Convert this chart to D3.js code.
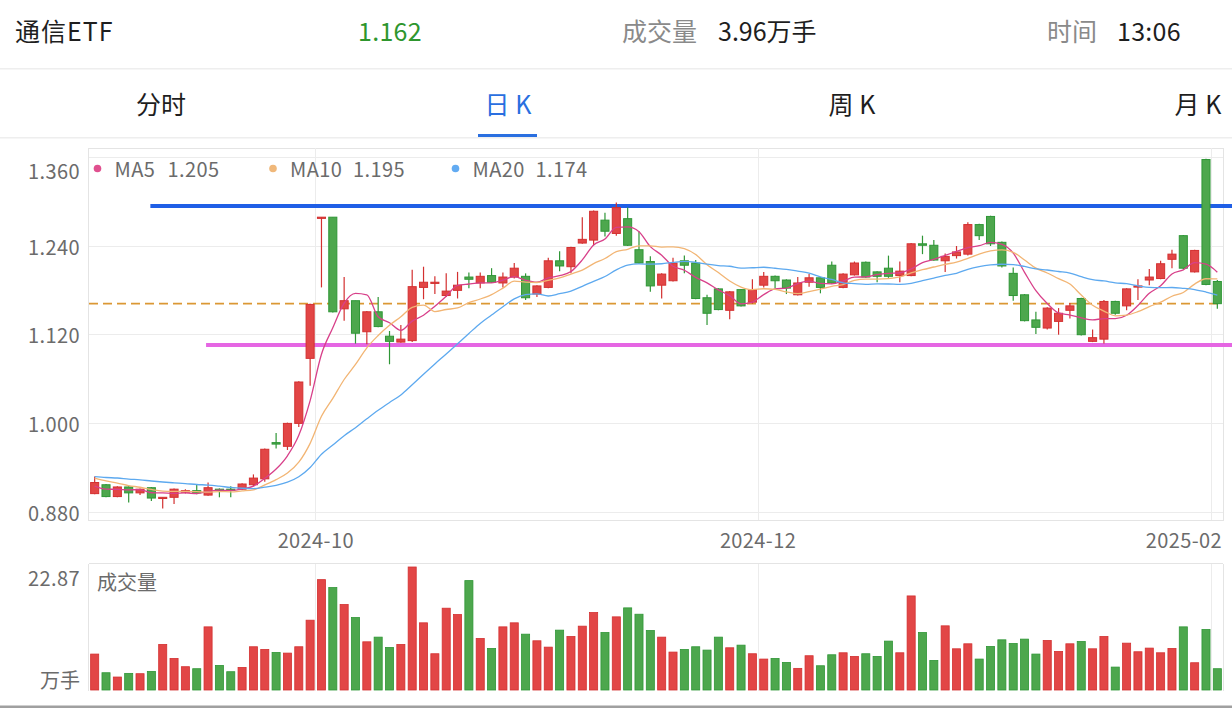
<!DOCTYPE html>
<html><head><meta charset="utf-8">
<script src="https://cdn.jsdelivr.net/npm/d3@7"></script>
<style>
html,body{margin:0;padding:0;background:#fff;}
svg{display:block;font-family:"Noto Sans CJK SC","Noto Sans",sans-serif;}
</style></head><body>
<svg id="c" width="1232" height="708"></svg>
<script>
// ---------------- data ----------------
const dates = [
"2024-08-30","2024-09-02","2024-09-03","2024-09-04","2024-09-05","2024-09-06","2024-09-09","2024-09-10","2024-09-11","2024-09-12",
"2024-09-13","2024-09-18","2024-09-19","2024-09-20","2024-09-23","2024-09-24","2024-09-25","2024-09-26","2024-09-27","2024-09-30",
"2024-10-08","2024-10-09","2024-10-10","2024-10-11","2024-10-14","2024-10-15","2024-10-16","2024-10-17","2024-10-18","2024-10-21",
"2024-10-22","2024-10-23","2024-10-24","2024-10-25","2024-10-28","2024-10-29","2024-10-30","2024-10-31","2024-11-01","2024-11-04",
"2024-11-05","2024-11-06","2024-11-07","2024-11-08","2024-11-11","2024-11-12","2024-11-13","2024-11-14","2024-11-15","2024-11-18",
"2024-11-19","2024-11-20","2024-11-21","2024-11-22","2024-11-25","2024-11-26","2024-11-27","2024-11-28","2024-11-29","2024-12-02",
"2024-12-03","2024-12-04","2024-12-05","2024-12-06","2024-12-09","2024-12-10","2024-12-11","2024-12-12","2024-12-13","2024-12-16",
"2024-12-17","2024-12-18","2024-12-19","2024-12-20","2024-12-23","2024-12-24","2024-12-25","2024-12-26","2024-12-27","2024-12-30",
"2024-12-31","2025-01-02","2025-01-03","2025-01-06","2025-01-07","2025-01-08","2025-01-09","2025-01-10","2025-01-13","2025-01-14",
"2025-01-15","2025-01-16","2025-01-17","2025-01-20","2025-01-21","2025-01-22","2025-01-23","2025-01-24","2025-01-27","2025-02-05"];
const opens = [
0.905,0.917,0.901,0.914,0.906,0.913,0.899,0.900,0.907,0.909,
0.903,0.911,0.911,0.911,0.917,0.925,0.974,0.969,1.000,1.088,
1.278,1.279,1.155,1.166,1.124,1.151,1.118,1.110,1.112,1.184,
1.190,1.173,1.180,1.198,1.190,1.200,1.190,1.198,1.199,1.175,
1.184,1.220,1.212,1.244,1.248,1.275,1.257,1.277,1.235,1.219,
1.187,1.193,1.220,1.217,1.170,1.182,1.153,1.181,1.164,1.187,
1.199,1.194,1.174,1.191,1.197,1.214,1.184,1.201,1.218,1.205,
1.210,1.200,1.200,1.243,1.241,1.220,1.227,1.229,1.269,1.280,
1.245,1.203,1.174,1.140,1.129,1.138,1.153,1.169,1.111,1.114,
1.165,1.159,1.185,1.194,1.196,1.222,1.254,1.205,1.357,1.192];
const highs = [
0.928,0.918,0.915,0.915,0.912,0.914,0.900,0.912,0.911,0.917,
0.920,0.912,0.915,0.919,0.931,0.966,0.987,1.001,1.057,1.162,
1.279,1.279,1.198,1.166,1.152,1.171,1.125,1.133,1.208,1.212,
1.199,1.203,1.205,1.204,1.204,1.210,1.204,1.217,1.203,1.187,
1.224,1.233,1.239,1.279,1.288,1.285,1.299,1.292,1.260,1.226,
1.203,1.224,1.227,1.221,1.174,1.183,1.179,1.182,1.195,1.205,
1.200,1.195,1.198,1.202,1.198,1.219,1.203,1.219,1.219,1.206,
1.227,1.219,1.244,1.254,1.248,1.230,1.240,1.272,1.270,1.281,
1.246,1.211,1.175,1.151,1.157,1.156,1.163,1.170,1.127,1.167,
1.166,1.183,1.195,1.209,1.220,1.235,1.255,1.235,1.358,1.194];
const lows = [
0.904,0.900,0.900,0.893,0.903,0.895,0.885,0.891,0.905,0.904,
0.902,0.900,0.900,0.910,0.915,0.921,0.966,0.964,0.995,1.051,
1.184,1.150,1.139,1.108,1.107,1.130,1.080,1.109,1.110,1.168,
1.175,1.171,1.169,1.183,1.183,1.190,1.184,1.196,1.167,1.171,
1.183,1.206,1.203,1.243,1.241,1.253,1.254,1.240,1.216,1.178,
1.169,1.192,1.203,1.168,1.133,1.153,1.141,1.158,1.162,1.184,
1.183,1.175,1.173,1.185,1.176,1.189,1.183,1.200,1.197,1.191,
1.197,1.191,1.199,1.229,1.220,1.205,1.223,1.227,1.248,1.240,
1.211,1.166,1.138,1.121,1.127,1.120,1.142,1.119,1.110,1.108,
1.147,1.153,1.167,1.187,1.195,1.210,1.209,1.204,1.187,1.155];
const closes = [
0.920,0.901,0.914,0.906,0.911,0.899,0.900,0.911,0.909,0.906,
0.913,0.909,0.910,0.918,0.926,0.965,0.972,1.000,1.056,1.161,
1.279,1.151,1.166,1.122,1.151,1.131,1.111,1.114,1.185,1.191,
1.191,1.179,1.187,1.195,1.199,1.191,1.198,1.210,1.170,1.186,
1.220,1.213,1.238,1.249,1.287,1.260,1.292,1.241,1.217,1.186,
1.202,1.217,1.214,1.169,1.149,1.154,1.178,1.159,1.181,1.199,
1.193,1.183,1.190,1.197,1.184,1.190,1.202,1.217,1.198,1.199,
1.199,1.206,1.243,1.241,1.221,1.226,1.232,1.269,1.254,1.243,
1.213,1.173,1.139,1.130,1.156,1.149,1.159,1.120,1.116,1.165,
1.149,1.182,1.186,1.198,1.216,1.229,1.210,1.234,1.188,1.162];
const volumes = [
6.68,3.21,2.41,3.09,3.03,3.46,8.47,5.87,4.33,3.96,
11.74,4.57,3.40,4.20,8.04,7.54,6.98,6.86,8.04,12.98,
20.52,19.04,15.89,13.47,8.96,9.83,7.91,8.47,22.87,12.49,
6.74,15.21,14.03,20.34,9.58,7.73,11.74,12.49,10.38,9.15,
7.97,11.13,9.95,11.87,14.40,10.69,13.60,15.27,14.09,11.06,
9.83,7.05,7.54,8.04,7.42,9.83,7.85,8.34,6.74,5.75,
5.87,5.13,4.02,6.37,4.51,6.55,6.92,6.24,6.74,6.24,
9.09,6.92,17.49,10.69,5.50,11.93,7.66,8.59,5.75,8.10,
9.33,8.65,9.46,6.68,9.21,7.17,8.59,9.02,7.66,9.95,
4.26,8.71,7.11,7.79,6.92,7.73,11.74,5.07,11.25,3.96];
// closes of the 19 sessions before the window (used only for the moving averages)
const priorCloses = [0.925,0.928,0.935,0.932,0.930,0.927,0.933,0.929,0.931,0.930,
                     0.938,0.944,0.940,0.934,0.929,0.921,0.915,0.910,0.909];
const yTicks = [0.880, 1.000, 1.120, 1.240, 1.360];
const maPeriods = [5, 10, 20];
const maNames = ["MA5", "MA10", "MA20"];
const lastPrice = 1.162;
const volMax = 22.87;
const resistance = {start: "2024-09-06", value: 1.294};
const support = {start: "2024-09-13", value: 1.106};
const header = {name: "通信ETF", price: "1.162", volLabel: "成交量", vol: "3.96万手", timeLabel: "时间", time: "13:06"};
const tabs = ["分时", "日 K", "周 K", "月 K"];

// ---------------- drawing ----------------
const svg = d3.select("#c");
const RED = "#E24646", RED_S = "#D33030", GREEN = "#4DA74D", GREEN_S = "#2F9636";
const maColors = ["#D8408A", "#F2B574", "#5DA9EF"];
const dotColors = ["#E0508F", "#F0B87A", "#62ABF2"];
const GRID = "#ececec", FRAME = "#e4e4e4", AXIS_TXT = "#6b6b6b";

const L = 89, R = 1223, T = 148.3, B = 520;
const x = d3.scaleBand().domain(dates).range([L, R]).paddingInner(0.2).paddingOuter(0.1);
const step = x.step(), bw = x.bandwidth();
const cx = d => x(d) + bw / 2;
const sx = d => x(d) - (step - bw) / 2;   // start of a session's slot
const y = d3.scaleLinear().domain([0.8693, 1.3722]).range([B, T]);
const VT = 563.5, VB = 690;
const vy = d3.scaleLinear().domain([0, volMax]).range([VB, 567]);

// header
const hdr = svg.append("g").attr("font-size", 25).attr("dominant-baseline", "central");
hdr.append("text").attr("x", 15).attr("y", 30).attr("fill", "#1e1e1e").attr("letter-spacing", 1).text(header.name);
hdr.append("text").attr("x", 358).attr("y", 30).attr("fill", "#2E962E").attr("letter-spacing", 0.3).text(header.price);
hdr.append("text").attr("x", 622).attr("y", 30).attr("fill", "#8a8a8a").text(header.volLabel);
hdr.append("text").attr("x", 718).attr("y", 30).attr("fill", "#1e1e1e").text(header.vol);
hdr.append("text").attr("x", 1047).attr("y", 30).attr("fill", "#8a8a8a").text(header.timeLabel);
hdr.append("text").attr("x", 1117).attr("y", 30).attr("fill", "#1e1e1e").attr("letter-spacing", 0.3).text(header.time);
svg.append("rect").attr("x", 0).attr("y", 68).attr("width", 1232).attr("height", 1.5).attr("fill", "#eeeeee");
svg.append("rect").attr("x", 0).attr("y", 137).attr("width", 1232).attr("height", 1.5).attr("fill", "#eeeeee");

// tabs
const tabX = [161, 508, 852, 1198];
const tg = svg.append("g").attr("font-size", 25).attr("dominant-baseline", "central").attr("text-anchor", "middle");
tabs.forEach((t, i) => {
  tg.append("text").attr("x", tabX[i]).attr("y", 103).attr("fill", i === 1 ? "#2A6FE0" : "#1e1e1e").text(t);
});
svg.append("rect").attr("x", 478).attr("y", 134).attr("width", 59).attr("height", 3).attr("fill", "#2A6FE0");

// month ticks (every other month start)
const monthStarts = [];
dates.forEach((d, i) => {
  const m = +d.slice(5, 7);
  if (i > 0 && dates[i - 1].slice(0, 7) !== d.slice(0, 7) && m % 2 === 0) monthStarts.push(d);
});

// frames + grid main
const grid = svg.append("g").attr("shape-rendering", "crispEdges");
grid.append("rect").attr("x", L - 0.5).attr("y", T).attr("width", R - L + 0.5).attr("height", B - T).attr("fill", "none").attr("stroke", FRAME);
grid.selectAll(".hg").data(yTicks).join("line")
  .attr("x1", L).attr("x2", R).attr("y1", d => y(d)).attr("y2", d => y(d)).attr("stroke", GRID);
grid.selectAll(".vg").data(monthStarts).join("line")
  .attr("x1", sx).attr("x2", sx).attr("y1", T).attr("y2", B).attr("stroke", GRID);
// volume frame
grid.append("line").attr("x1", L - 0.5).attr("x2", R).attr("y1", VT).attr("y2", VT).attr("stroke", FRAME);
grid.append("line").attr("x1", L - 0.5).attr("x2", L - 0.5).attr("y1", VT).attr("y2", VB + 1).attr("stroke", FRAME);
grid.append("line").attr("x1", R).attr("x2", R).attr("y1", VT).attr("y2", VB + 1).attr("stroke", FRAME);
grid.selectAll(".vg2").data(monthStarts).join("line")
  .attr("x1", sx).attr("x2", sx).attr("y1", VT).attr("y2", VB + 1).attr("stroke", GRID);

// y axis labels
svg.append("g").attr("font-size", 20).attr("fill", AXIS_TXT).attr("text-anchor", "end").attr("dominant-baseline", "central")
  .attr("letter-spacing", 0.4)
  .selectAll("text").data(yTicks).join("text")
  .attr("x", 80).attr("y", d => Math.max(y(d), 170)).text(d => d.toFixed(3));

// x axis labels
svg.append("g").attr("font-size", 20).attr("fill", AXIS_TXT).attr("dominant-baseline", "central")
  .attr("letter-spacing", 0.4)
  .selectAll("text").data(monthStarts).join("text")
  .attr("x", (d, i) => i === monthStarts.length - 1 ? R - 1 : sx(d))
  .attr("text-anchor", (d, i) => i === monthStarts.length - 1 ? "end" : "middle")
  .attr("y", 539).text(d => d.slice(0, 7));

// reference lines
svg.append("line").attr("x1", cx(resistance.start) - 1).attr("x2", 1232)
  .attr("y1", y(resistance.value)).attr("y2", y(resistance.value)).attr("stroke", "#1F5FE6").attr("stroke-width", 4);
svg.append("line").attr("x1", cx(support.start) - 2).attr("x2", 1232)
  .attr("y1", y(support.value)).attr("y2", y(support.value)).attr("stroke", "#E566E3").attr("stroke-width", 4);
svg.append("line").attr("x1", L).attr("x2", R).attr("y1", y(lastPrice)).attr("y2", y(lastPrice))
  .attr("stroke", "#DB9834").attr("stroke-width", 1.8).attr("stroke-dasharray", "9,5");

// candles
const idx = d3.range(dates.length);
const up = i => closes[i] >= opens[i];
const cg = svg.append("g");
cg.selectAll(".wick").data(idx).join("line")
  .attr("x1", i => cx(dates[i])).attr("x2", i => cx(dates[i]))
  .attr("y1", i => y(highs[i])).attr("y2", i => y(lows[i]))
  .attr("stroke", i => up(i) ? RED_S : GREEN_S).attr("stroke-width", 1.2);
cg.selectAll(".body").data(idx).join("rect")
  .attr("x", i => x(dates[i]) + 0.5).attr("width", bw - 1)
  .attr("y", i => y(Math.max(opens[i], closes[i])))
  .attr("height", i => Math.max(1.2, Math.abs(y(opens[i]) - y(closes[i]))))
  .attr("fill", i => up(i) ? RED : GREEN)
  .attr("stroke", i => up(i) ? RED_S : GREEN_S).attr("stroke-width", 1);

// moving averages
const allCloses = priorCloses.concat(closes);
const off = priorCloses.length;
maPeriods.forEach((p, k) => {
  const ma = idx.map(i => d3.mean(allCloses.slice(i + off - p + 1, i + off + 1)));
  svg.append("path").datum(idx)
    .attr("d", d3.line().x(i => cx(dates[i])).y(i => y(ma[i])).curve(d3.curveMonotoneX))
    .attr("fill", "none").attr("stroke", maColors[k]).attr("stroke-width", 1.3);
});

// legend
const lastMA = maPeriods.map(p => d3.mean(closes.slice(-p)));
const legX = [97.5, 273, 455.5];
const lg = svg.append("g").attr("font-size", 20).attr("fill", AXIS_TXT).attr("dominant-baseline", "central")
  .attr("letter-spacing", 0.4);
maPeriods.forEach((p, k) => {
  lg.append("circle").attr("cx", legX[k]).attr("cy", 168.5).attr("r", 3.8).attr("fill", dotColors[k]);
  lg.append("text").attr("x", legX[k] + 17).attr("y", 168.5).text(maNames[k]);
  lg.append("text").attr("x", legX[k] + (k === 0 ? 70 : 80)).attr("y", 168.5).text(lastMA[k].toFixed(3));
});

// volume bars
svg.append("g").selectAll("rect").data(idx).join("rect")
  .attr("x", i => x(dates[i]) + 0.5).attr("width", bw - 1)
  .attr("y", i => vy(volumes[i])).attr("height", i => VB - vy(volumes[i]))
  .attr("fill", i => up(i) ? RED : GREEN)
  .attr("stroke", i => up(i) ? RED_S : GREEN_S).attr("stroke-width", 0.8);

// volume axis labels
const va = svg.append("g").attr("fill", AXIS_TXT).attr("dominant-baseline", "central");
va.append("text").attr("x", 80).attr("y", 577).attr("text-anchor", "end").attr("font-size", 20).attr("letter-spacing", 0.4).text(volMax.toFixed(2));
va.append("text").attr("x", 80).attr("y", 679).attr("text-anchor", "end").attr("font-size", 20).text("万手");
va.append("text").attr("x", 97).attr("y", 581).attr("font-size", 20).text("成交量");

// bottom edge
svg.append("rect").attr("x", 0).attr("y", 705.5).attr("width", 1232).attr("height", 2.5).attr("fill", "#a0a0a0");
</script>
</body></html>
